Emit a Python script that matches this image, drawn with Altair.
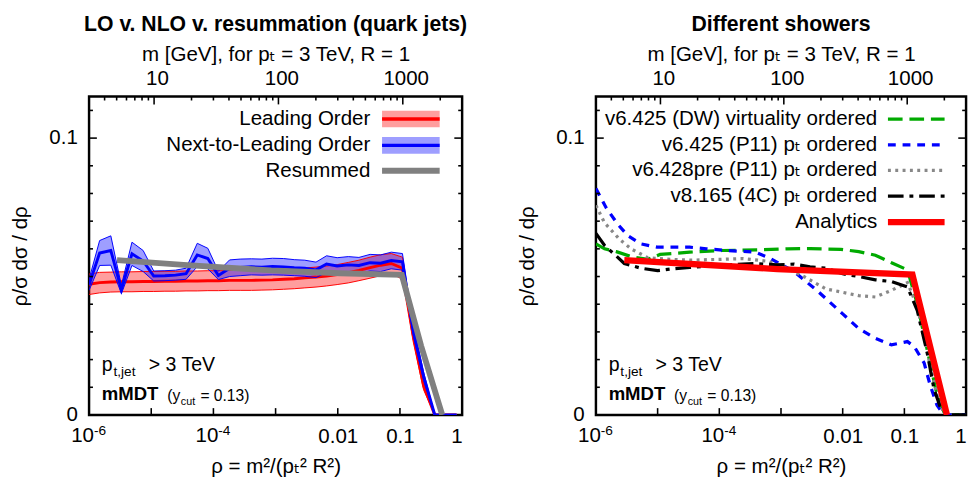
import altair as alt
import numpy as np
import pandas as pd

FONT = "Liberation Sans, Arial, Helvetica, DejaVu Sans, sans-serif"
FS = 21

# ---------------- left panel data ----------------
nlo_log_rho = [-6.00, -5.83, -5.65, -5.48, -5.31, -5.13, -4.96, -4.78, -4.61, -4.44,
               -4.26, -4.09, -3.92, -3.74, -3.57, -3.39, -3.22, -3.05, -2.87, -2.70,
               -2.53, -2.35, -2.18, -2.01, -1.83, -1.66, -1.48, -1.31, -1.14, -0.96,
               -0.79, -0.62, -0.44, -0.27, -0.09]
lo_central = [0.0472, 0.0478, 0.0480, 0.0481, 0.0481, 0.0482, 0.0482, 0.0483, 0.0483, 0.0484,
              0.0484, 0.0485, 0.0485, 0.0486, 0.0486, 0.0486, 0.0487, 0.0488, 0.0490, 0.0492,
              0.0495, 0.0498, 0.0502, 0.0507, 0.0514, 0.0522, 0.0532, 0.0541, 0.0547, 0.0530,
              0.0293, 0.0106, 0.0, 0.0, 0.0]
lo_halfwidth = [0.0037, 0.0037, 0.0036, 0.0036, 0.0036, 0.0036, 0.0036, 0.0036, 0.0036, 0.0036,
                0.0036, 0.0036, 0.0036, 0.0036, 0.0036, 0.0036, 0.0036, 0.0036, 0.0036, 0.0036,
                0.0036, 0.0036, 0.0036, 0.0036, 0.0037, 0.0037, 0.0038, 0.0038, 0.0036, 0.0040,
                0.0025, 0.0015, 0.0, 0.0, 0.0]
nlo_central = [0.0470, 0.0585, 0.0594, 0.0453, 0.0582, 0.0556, 0.0502, 0.0503, 0.0505, 0.0510,
               0.0578, 0.0565, 0.0504, 0.0530, 0.0533, 0.0535, 0.0534, 0.0536, 0.0535, 0.0532,
               0.0530, 0.0524, 0.0545, 0.0538, 0.0542, 0.0540, 0.0550, 0.0548, 0.0558, 0.0553,
               0.0310, 0.0140, 0.0, 0.0, 0.0]
nlo_halfwidth = [0.0020, 0.0045, 0.0053, 0.0015, 0.0042, 0.0038, 0.0018, 0.0018, 0.0018, 0.0020,
                 0.0042, 0.0037, 0.0015, 0.0030, 0.0030, 0.0029, 0.0029, 0.0030, 0.0030, 0.0029,
                 0.0029, 0.0028, 0.0030, 0.0030, 0.0030, 0.0029, 0.0030, 0.0030, 0.0030, 0.0030,
                 0.0020, 0.0015, 0.0, 0.0, 0.0]
resum_log_rho = [-5.55, -4.48, -3.07, -1.97, -0.97, -0.66, -0.32]
resum_value = [0.0559, 0.0542, 0.0522, 0.0512, 0.0506, 0.0250, 0.0]

# ---------------- right panel data ----------------
dw_log_rho = [-6.00, -5.86, -5.67, -5.43, -5.16, -4.96, -4.48, -3.96, -3.37, -2.90, -2.53,
              -2.03, -1.74, -1.47, -1.20, -0.95, -0.79, -0.63, -0.47, -0.36, -0.24, 0.0]
dw_value = [0.0618, 0.0600, 0.0590, 0.0572, 0.0562, 0.0580, 0.0588, 0.0594, 0.0596, 0.0600, 0.0601,
            0.0598, 0.0590, 0.0577, 0.0549, 0.0524, 0.0400, 0.0235, 0.0071, 0.0012, 0.0, 0.0]
p11_log_rho = [-6.00, -5.83, -5.65, -5.48, -5.27, -5.01, -4.48, -4.21, -3.85, -3.42, -3.17, -2.79,
               -2.42, -2.00, -1.74, -1.47, -1.21, -0.95, -0.84, -0.68, -0.58, -0.47, -0.36, 0.0]
p11_value = [0.0818, 0.0747, 0.0690, 0.0647, 0.0618, 0.0606, 0.0606, 0.0600, 0.0594, 0.0588, 0.0565, 0.0518,
             0.0450, 0.0365, 0.0312, 0.0277, 0.0253, 0.0265, 0.0247, 0.0188, 0.0106, 0.0035, 0.0, 0.0]
pre_log_rho = [-6.00, -5.86, -5.62, -5.43, -5.16, -4.88, -4.48, -4.00, -3.61, -3.21, -2.90, -2.63,
               -2.27, -2.00, -1.74, -1.47, -1.21, -0.95, -0.79, -0.63, -0.47, -0.35, 0.0]
pre_value = [0.0757, 0.0694, 0.0635, 0.0600, 0.0568, 0.0563, 0.0559, 0.0562, 0.0565, 0.0555, 0.0530, 0.0500,
             0.0455, 0.0443, 0.0431, 0.0426, 0.0450, 0.0478, 0.0390, 0.0230, 0.0070, 0.0, 0.0]
v8_log_rho = [-6.00, -5.86, -5.67, -5.54, -5.27, -5.00, -4.75, -4.48, -3.96, -3.42, -3.06, -2.79, -2.53,
              -2.27, -2.00, -1.74, -1.47, -1.21, -0.95, -0.79, -0.63, -0.52, -0.42, -0.31, 0.0]
v8_value = [0.0656, 0.0612, 0.0574, 0.0547, 0.0530, 0.0521, 0.0528, 0.0533, 0.0541, 0.0547, 0.0542, 0.0545, 0.0535,
            0.0530, 0.0510, 0.0500, 0.0488, 0.0482, 0.0462, 0.0377, 0.0224, 0.0094, 0.0030, 0.0, 0.0]
ana_log_rho = [-5.54, -3.06, -0.87, -0.31]
ana_value = [0.0559, 0.0527, 0.0507, 0.0]

left_labels = ["Leading Order", "Next-to-Leading Order", "Resummed"]
right_labels = ["v6.425 (DW) virtuality ordered", "v6.425 (P11) p\u209c ordered",
                "v6.428pre (P11) p\u209c ordered", "v8.165 (4C) p\u209c ordered", "Analytics"]

# axis tick positions and labels
y_major_ticks = [0.1]
y_minor_ticks = [0.01, 0.02, 0.03, 0.04, 0.05, 0.06, 0.07, 0.08, 0.09, 0.11]
rho_ticks = [1e-5, 1e-4, 1e-3, 1e-2, 1e-1]
rho_plain_labels = [0.01, 0.1, 1]
rho_power_labels = [1e-6, 1e-4]
rho_power_exps = ["-6", "-4"]
m_major_ticks = [10, 100, 1000]
m_minor_ticks = [4, 5, 6, 7, 8, 9, 20, 30, 40, 50, 60, 70, 80, 90,
                 200, 300, 400, 500, 600, 700, 800, 900, 2000]

# ---------------- geometry / scales ----------------
W_L, W_R, H = 382, 379, 326
XS = alt.Scale(type="log", domain=[1e-6, 1], nice=False)
YS = alt.Scale(domain=[0, 0.115], nice=False, zero=False)
MS = alt.Scale(type="log", domain=[3, 3000], nice=False)

AX_B = alt.Axis(values=rho_plain_labels, format="~g",
                title="\u03c1 = m\u00b2/(p\u209c\u00b2 R\u00b2)", ticks=False, tickSize=0, domain=False,
                grid=False, labelPadding=11, titlePadding=10, labelFlush=1, labelOverlap=False)
AX_L = alt.Axis(values=[0, 0.1], format="~g", title="\u03c1/\u03c3 d\u03c3 / d\u03c1", ticks=False,
                tickSize=0, domain=False, grid=False, labelPadding=12, titlePadding=19)
AX_T = alt.Axis(orient="top", values=m_major_ticks, format="d",
                title="m [GeV], for p\u209c = 3 TeV, R = 1", ticks=False, tickSize=0, domain=False,
                grid=False, labelPadding=8, titlePadding=4, labelOffset=3, labelFlush=False,
                labelOverlap=False)

ONE = pd.DataFrame({"i": [0]})


def xq(field):
    return alt.X(f"{field}:Q", scale=XS, axis=AX_B)


def yq(field):
    return alt.Y(f"{field}:Q", scale=YS, axis=AX_L)


def mq(field):
    return alt.X(f"{field}:Q", scale=MS, axis=AX_T)


def series_df(logs, vals):
    return pd.DataFrame({"rho": 10 ** np.array(logs), "v": vals})


def line(df, field, color, width, dash=None):
    kw = dict(color=color, strokeWidth=width, clip=True)
    if dash:
        kw["strokeDash"] = dash
    return alt.Chart(df).mark_line(**kw).encode(x=xq("rho"), y=yq(field))


def txt(s, x, y, size=FS, align="left", baseline="middle", weight="normal"):
    return alt.Chart(ONE).mark_text(text=s, align=align, baseline=baseline, fontSize=size,
                                    fontWeight=weight, color="black").encode(
        x=alt.value(x), y=alt.value(y))


def hseg(x1, x2, y, color, width, dash=None):
    kw = dict(color=color, strokeWidth=width)
    if dash:
        kw["strokeDash"] = dash
    return alt.Chart(ONE).mark_rule(**kw).encode(x=alt.value(x1), x2=alt.value(x2), y=alt.value(y))


def box(x1, x2, y1, y2, color, opacity):
    return alt.Chart(ONE).mark_rect(color=color, opacity=opacity).encode(
        x=alt.value(x1), x2=alt.value(x2), y=alt.value(y1), y2=alt.value(y2))


def frame_ticks(W):
    tk = dict(color="black", strokeWidth=1.6)
    ymin = pd.DataFrame({"v": y_minor_ticks})
    ymaj = pd.DataFrame({"v": y_major_ticks})
    pw = pd.DataFrame({"rho": rho_power_labels, "exp": rho_power_exps})
    return [
        alt.Chart(ymin).mark_rule(**tk).encode(y=yq("v"), x=alt.value(0), x2=alt.value(4)),
        alt.Chart(ymaj).mark_rule(**tk).encode(y=yq("v"), x=alt.value(0), x2=alt.value(8)),
        alt.Chart(ymin).mark_rule(**tk).encode(y=yq("v"), x=alt.value(W), x2=alt.value(W - 4)),
        alt.Chart(ymaj).mark_rule(**tk).encode(y=yq("v"), x=alt.value(W), x2=alt.value(W - 8)),
        alt.Chart(pd.DataFrame({"rho": rho_ticks})).mark_rule(**tk).encode(
            x=xq("rho"), y=alt.value(H), y2=alt.value(H - 7)),
        # power-of-ten tick labels: "10" with a raised exponent
        alt.Chart(pw).mark_text(text="10", align="right", baseline="alphabetic", fontSize=FS,
                                dx=5, color="black").encode(x=xq("rho"), y=alt.value(H + 28)),
        alt.Chart(pw).mark_text(align="left", baseline="alphabetic", fontSize=14, dx=5,
                                color="black").encode(x=xq("rho"), y=alt.value(H + 21),
                                                      text="exp:N"),
    ]


def top_group():
    tk = dict(color="black", strokeWidth=1.6)
    return alt.layer(
        alt.Chart(pd.DataFrame({"m": m_major_ticks})).mark_rule(**tk).encode(
            x=mq("m"), y=alt.value(0), y2=alt.value(8)),
        alt.Chart(pd.DataFrame({"m": m_minor_ticks})).mark_rule(**tk).encode(
            x=mq("m"), y=alt.value(0), y2=alt.value(4)),
    )


def annotations():
    return [
        txt("p", 13, 281, size=20, baseline="alphabetic"),
        txt("t,jet", 25, 286, size=14, baseline="alphabetic"),
        txt("> 3 TeV", 61, 281, size=20, baseline="alphabetic"),
        txt("mMDT", 13, 311, size=19, weight="bold", baseline="alphabetic"),
        txt("(y", 80, 312, size=16, baseline="alphabetic"),
        txt("cut", 94, 316, size=11, baseline="alphabetic"),
        txt("= 0.13)", 114, 312, size=16, baseline="alphabetic"),
    ]


def panel(W, title, series, legend):
    rho_group = alt.layer(*series, *frame_ticks(W), *legend, *annotations())
    return alt.layer(rho_group, top_group()).resolve_scale(x="independent").properties(
        width=W, height=H,
        title=alt.TitleParams(title, fontSize=21.7, fontWeight="bold", anchor="middle",
                              frame="group", offset=8))


# ---------------- left panel ----------------
ldf = pd.DataFrame({
    "rho": 10 ** np.array(nlo_log_rho),
    "lo_c": lo_central,
    "lo_lo": np.array(lo_central) - np.array(lo_halfwidth),
    "lo_hi": np.array(lo_central) + np.array(lo_halfwidth),
    "nlo_c": nlo_central,
    "nlo_lo": np.array(nlo_central) - np.array(nlo_halfwidth),
    "nlo_hi": np.array(nlo_central) + np.array(nlo_halfwidth),
})
RED, BLUE, GREY = "#ff0000", "#0000ff", "#808080"
left_series = [
    alt.Chart(ldf).mark_area(color=RED, opacity=0.38, clip=True).encode(
        x=xq("rho"), y=yq("lo_lo"), y2=alt.Y2("lo_hi")),
    alt.Chart(ldf).mark_area(color=BLUE, opacity=0.38, clip=True).encode(
        x=xq("rho"), y=yq("nlo_lo"), y2=alt.Y2("nlo_hi")),
    line(ldf, "lo_lo", RED, 1),
    line(ldf, "lo_hi", RED, 1),
    line(ldf, "lo_c", RED, 3),
    line(ldf, "nlo_lo", BLUE, 1),
    line(ldf, "nlo_hi", BLUE, 1),
    line(ldf, "nlo_c", BLUE, 3),
    line(series_df(resum_log_rho, resum_value), "v", GREY, 6),
]
lrows = [23, 50, 76]
left_legend = [
    txt(left_labels[0], 288, lrows[0], align="right"),
    box(300, 359, lrows[0] - 8.5, lrows[0] + 8.5, RED, 0.38),
    hseg(300, 359, lrows[0], RED, 3.5),
    txt(left_labels[1], 288, lrows[1], align="right"),
    box(300, 359, lrows[1] - 8.5, lrows[1] + 8.5, BLUE, 0.38),
    hseg(300, 359, lrows[1], BLUE, 3.5),
    txt(left_labels[2], 288, lrows[2], align="right"),
    hseg(300, 359, lrows[2], GREY, 6),
]
left = panel(W_L, "LO v. NLO v. resummation (quark jets)", left_series, left_legend)

# ---------------- right panel ----------------
GREEN = "#00aa00"
styles = [
    (dw_log_rho, dw_value, GREEN, 3.3, [15, 7]),
    (p11_log_rho, p11_value, BLUE, 3.3, [8, 7]),
    (pre_log_rho, pre_value, "#888888", 3.3, [3, 4.5]),
    (v8_log_rho, v8_value, "black", 3.3, [16, 6, 4, 6]),
    (ana_log_rho, ana_value, RED, 6.5, None),
]
right_series = [line(series_df(a, b), "v", c, w, d) for a, b, c, w, d in styles]
rrows = [23, 49.5, 75.5, 102, 128.5]
right_legend = []
for lab, yy, (_, _, c, w, d) in zip(right_labels, rrows, styles):
    right_legend.append(txt(lab, 288, yy, align="right"))
    right_legend.append(hseg(299, 357, yy, c, w, d))
right = panel(W_R, "Different showers", right_series, right_legend)

chart = alt.hconcat(left, right, spacing=47).resolve_scale(
    x="independent", y="independent").properties(
    padding={"left": 0, "top": 0, "right": 0, "bottom": 0}
).configure(font=FONT).configure_view(
    stroke="black", strokeWidth=2.5
).configure_axis(
    labelFontSize=FS, titleFontSize=FS, titleFontWeight="normal", labelColor="black",
    titleColor="black", labelFont=FONT, titleFont=FONT
).configure_title(font=FONT, color="black")

chart.save("out.html", embed_options={"renderer": "svg", "actions": False})
